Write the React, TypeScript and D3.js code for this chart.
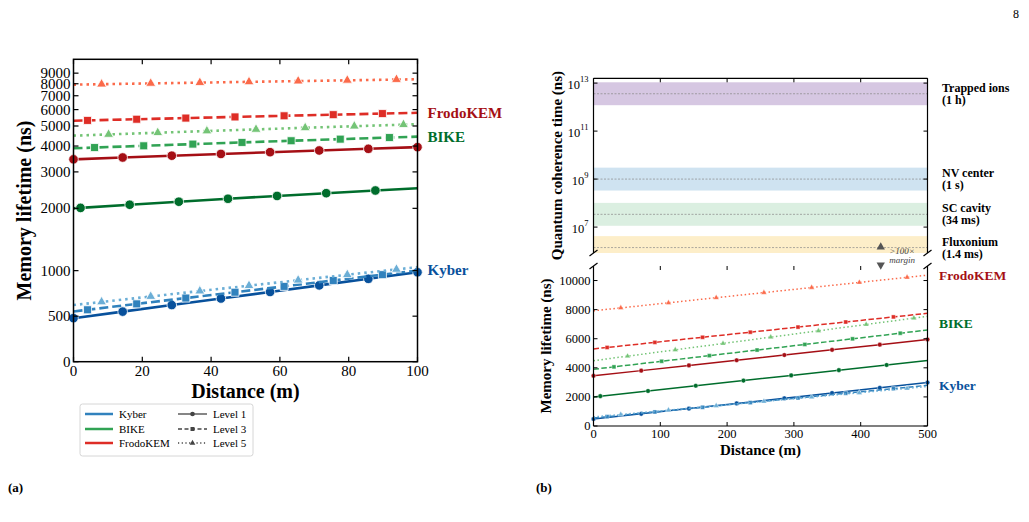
import React from "react";
import * as d3 from "d3";

const FONT = '"Liberation Serif", "Times New Roman", Times, serif';

// ---- panel (a): 0-100 m ----
// distances (m) of the plotted points, one list per marker offset
const distA0 = [0, 14.29, 28.57, 42.86, 57.14, 71.43, 85.71, 100];
const distA1 = [0, 2.04, 16.33, 30.61, 44.9, 59.18, 73.47, 87.76, 100];
const distA2 = [0, 4.08, 18.37, 32.65, 46.94, 61.22, 75.51, 89.8, 100];
const distA3 = [0, 6.12, 20.41, 34.69, 48.98, 63.27, 77.55, 91.84, 100];
const distA4 = [0, 8.16, 22.45, 36.73, 51.02, 65.31, 79.59, 93.88, 100];
const distA5 = [0, 10.2, 24.49, 38.78, 53.06, 67.35, 81.63, 95.92, 100];

// memory lifetime (ns)
const kyberL1A = [478, 550, 622, 694, 766, 838, 910, 982];
const kyberL3A = [552, 570, 635, 699, 763, 827, 892, 956, 1002];
const kyberL5A = [622, 656, 716, 776, 835, 895, 955, 1014, 1040];
const bikeL1A = [2000, 2010, 2082, 2153, 2225, 2296, 2367, 2439, 2500];
const bikeL3A = [3900, 3933, 4010, 4087, 4164, 4242, 4319, 4396, 4440];
const bikeL5A = [4490, 4552, 4639, 4727, 4814, 4901, 4988, 5075, 5100];
const frodoL1A = [3450, 3521, 3593, 3664, 3736, 3807, 3879, 3950];
const frodoL3A = [5300, 5320, 5390, 5460, 5530, 5600, 5670, 5740, 5790];
const frodoL5A = [7920, 7960, 8030, 8100, 8170, 8240, 8310, 8380, 8410];

// ---- panel (b): 0-500 m ----
const distB0 = [0, 71.43, 142.86, 214.29, 285.71, 357.14, 428.57, 500];
const distB1 = [0, 10.2, 81.63, 153.06, 224.49, 295.92, 367.35, 438.78, 500];
const distB2 = [0, 20.41, 91.84, 163.27, 234.69, 306.12, 377.55, 448.98, 500];
const distB3 = [0, 30.61, 102.04, 173.47, 244.9, 316.33, 387.76, 459.18, 500];
const distB4 = [0, 40.82, 112.24, 183.67, 255.1, 326.53, 397.96, 469.39, 500];
const distB5 = [0, 51.02, 122.45, 193.88, 265.31, 336.73, 408.16, 479.59, 500];

const kyberL1B = [480, 838, 1196, 1554, 1911, 2269, 2627, 2985];
const kyberL3B = [552, 644, 965, 1287, 1608, 1929, 2251, 2572, 2800];
const kyberL5B = [622, 793, 1091, 1390, 1688, 1987, 2286, 2584, 2712];
const bikeL1B = [2000, 2051, 2408, 2766, 3123, 3480, 3837, 4194, 4500];
const bikeL3B = [3900, 4065, 4451, 4837, 5222, 5608, 5994, 6380, 6600];
const bikeL5B = [4490, 4801, 5237, 5673, 6108, 6544, 6980, 7416, 7540];
const frodoL1B = [3450, 3807, 4164, 4521, 4879, 5236, 5593, 5950];
const frodoL3B = [5300, 5400, 5750, 6100, 6450, 6800, 7150, 7500, 7750];
const frodoL5B = [7920, 8120, 8470, 8820, 9170, 9520, 9870, 10220, 10370];

// quantum memory platforms (coherence time in ns)
const platforms = ["Trapped ions", "NV center", "SC cavity", "Fluxonium"];
const platformNotes = ["(1 h)", "(1 s)", "(34 ms)", "(1.4 ms)"];
const coherenceNs = [3.6e12, 1e9, 3.4e7, 1.4e6];
const bandColors = ["#d6c7e2", "#cfe3f1", "#dbefe1", "#fdeec9"];

const algos = ["Kyber", "BIKE", "FrodoKEM"];
const levels = ["Level 1", "Level 3", "Level 5"];
const algoColors = ["#3182bd", "#31a354", "#de2d26"];
const labelColors = ["#08519c", "#006d2c", "#a50f15"];
const shades = [
  ["#08519c", "#3182bd", "#6baed6"],
  ["#006d2c", "#31a354", "#74c476"],
  ["#a50f15", "#de2d26", "#fb6a4a"],
];

const ticksA = [0, 500, 1000, 2000, 3000, 4000, 5000, 6000, 7000, 8000, 9000];

type Series = { algo: number; level: number; dA: number[]; vA: number[]; dB: number[]; vB: number[] };
const series: Series[] = [
  { algo: 0, level: 0, dA: distA0, vA: kyberL1A, dB: distB0, vB: kyberL1B },
  { algo: 0, level: 1, dA: distA2, vA: kyberL3A, dB: distB2, vB: kyberL3B },
  { algo: 0, level: 2, dA: distA4, vA: kyberL5A, dB: distB4, vB: kyberL5B },
  { algo: 1, level: 0, dA: distA1, vA: bikeL1A, dB: distB1, vB: bikeL1B },
  { algo: 1, level: 1, dA: distA3, vA: bikeL3A, dB: distB3, vB: bikeL3B },
  { algo: 1, level: 2, dA: distA5, vA: bikeL5A, dB: distB5, vB: bikeL5B },
  { algo: 2, level: 0, dA: distA0, vA: frodoL1A, dB: distB0, vB: frodoL1B },
  { algo: 2, level: 1, dA: distA2, vA: frodoL3A, dB: distB2, vB: frodoL3B },
  { algo: 2, level: 2, dA: distA4, vA: frodoL5A, dB: distB4, vB: frodoL5B },
];

// symlog-like transform: linear below 1000 ns, log10 above
const LINTHRESH = 1000;
const LINSCALE = 0.44;
const symT = (v: number) => (v <= LINTHRESH ? (LINSCALE * v) / LINTHRESH : LINSCALE + Math.log10(v / LINTHRESH));

// panel (a) geometry
const A = { left: 73.5, right: 417.5, top: 59.3, bottom: 361.7 };
const xA = d3.scaleLinear().domain([0, 100]).range([A.left, A.right]);
const yAlin = d3.scaleLinear().domain([symT(0), symT(10500)]).range([A.bottom, A.top]);
const yA = (v: number) => yAlin(symT(v));

// panel (b) geometry
const B = { left: 593.5, right: 927.5, top: 78.3, mid1: 253, mid2: 266, bottom: 426 };
const xB = d3.scaleLinear().domain([0, 500]).range([B.left, B.right]);
const yBtop = d3.scaleLog().domain([Math.pow(10, 5.92), Math.pow(10, 13.2)]).range([B.mid1, B.top]);
const yB = d3.scaleLinear().domain([0, 11000]).range([B.bottom, B.mid2]);

const symbolTypes = [d3.symbolCircle, d3.symbolSquare, d3.symbolTriangle];
const marker = (level: number, big: boolean) => {
  const sizes = big ? [72, 64, 42] : [17, 16, 14];
  return d3.symbol(symbolTypes[level], sizes[level])() || "";
};
const dashA = ["none", "9,4", "2.5,4"];
const dashB = ["none", "5.5,2.4", "1.5,2.5"];
const dashLegend = ["none", "4,2.5", "1.2,2.5"];

function SeriesMarks({ s, panel }: { s: Series; panel: "a" | "b" }) {
  const big = panel === "a";
  const d = big ? s.dA : s.dB;
  const v = big ? s.vA : s.vB;
  const xs = big ? xA : xB;
  const ys = big ? yA : yB;
  const color = shades[s.algo][s.level];
  const pts: [number, number][] = d.map((di, i) => [xs(di), ys(v[i])]);
  const line = d3.line<[number, number]>().x((p) => p[0]).y((p) => p[1]);
  // with a non-zero marker offset the end points carry no marker
  const marked = d.length === 8 ? pts : pts.slice(1, -1);
  const sym = marker(s.level, big);
  return (
    <g>
      <path
        d={line(pts) || ""}
        fill="none"
        stroke={color}
        strokeWidth={big ? 2.6 : 1.5}
        strokeDasharray={(big ? dashA : dashB)[s.level]}
      />
      {marked.map((p, i) => (
        <path
          key={i}
          d={sym}
          transform={`translate(${p[0]},${p[1]})`}
          fill={color}
          stroke="#fff"
          strokeWidth={big ? 0.8 : 0.4}
        />
      ))}
    </g>
  );
}

function Pow10({ x, y, exp }: { x: number; y: number; exp: number }) {
  return (
    <text x={x} y={y} textAnchor="end" fontSize={12.5} fontFamily={FONT} dominantBaseline="central">
      10
      <tspan fontSize={8.5} dy={-6}>
        {exp}
      </tspan>
    </text>
  );
}

export default function App() {
  const tickLen = 5;
  const xTicksA = d3.range(0, 101, 20);
  const xTicksB = d3.range(0, 501, 100);
  const yTicksB = d3.range(0, 10001, 2000);
  const yTicksTop = [1e7, 1e9, 1e11, 1e13];
  const breakMark = (x: number, y: number, key: string) => (
    <line key={key} x1={x - 4} y1={y + 3} x2={x + 4} y2={y - 3} stroke="#000" strokeWidth={1.2} />
  );
  const legendY = [414, 429, 443];

  return (
    <svg width={1029} height={522} style={{ position: "absolute", left: 0, top: 0, background: "#fff" }} fontFamily={FONT}>
      <text x={1016} y={18} fontSize={12} textAnchor="middle">8</text>

      {/* ================= panel (a) ================= */}
      <g>
        {series.map((s, i) => (
          <SeriesMarks key={i} s={s} panel="a" />
        ))}
        <rect x={A.left} y={A.top} width={A.right - A.left} height={A.bottom - A.top} fill="none" stroke="#000" strokeWidth={1.5} />
        {xTicksA.map((t) => (
          <g key={t}>
            <line x1={xA(t)} x2={xA(t)} y1={A.bottom} y2={A.bottom - tickLen} stroke="#000" strokeWidth={1.2} />
            <line x1={xA(t)} x2={xA(t)} y1={A.top} y2={A.top + tickLen} stroke="#000" strokeWidth={1.2} />
            <text x={xA(t)} y={A.bottom + 14} fontSize={15} textAnchor="middle">{t}</text>
          </g>
        ))}
        {ticksA.map((t) => (
          <g key={t}>
            <line x1={A.left} x2={A.left + tickLen} y1={yA(t)} y2={yA(t)} stroke="#000" strokeWidth={1.2} />
            <line x1={A.right} x2={A.right - tickLen} y1={yA(t)} y2={yA(t)} stroke="#000" strokeWidth={1.2} />
            <text x={A.left - 3} y={yA(t)} fontSize={15} textAnchor="end" dominantBaseline="central">{t}</text>
          </g>
        ))}
        <text x={(A.left + A.right) / 2} y={398} fontSize={20} fontWeight="bold" textAnchor="middle">Distance (m)</text>
        <text transform={`translate(31,${(A.top + A.bottom) / 2}) rotate(-90)`} fontSize={20} fontWeight="bold" textAnchor="middle">
          Memory lifetime (ns)
        </text>
        {[frodoL3A, bikeL3A, kyberL3A].map((vals, i) => {
          const algo = 2 - i;
          return (
            <text key={algo} x={A.right + 10} y={yA(vals[vals.length - 1])} fontSize={15} fontWeight="bold" fill={labelColors[algo]} dominantBaseline="central">
              {algos[algo]}
            </text>
          );
        })}

        {/* legend */}
        <rect x={80} y={404} width={173} height={52} rx={2.5} fill="#fff" stroke="#ccc" strokeWidth={0.8} />
        {algos.map((a, i) => (
          <g key={a}>
            <line x1={85} x2={113} y1={legendY[i]} y2={legendY[i]} stroke={algoColors[i]} strokeWidth={2.5} />
            <text x={119} y={legendY[i]} fontSize={11} dominantBaseline="central">{a}</text>
          </g>
        ))}
        {levels.map((l, i) => (
          <g key={l}>
            <line x1={178} x2={207} y1={legendY[i]} y2={legendY[i]} stroke="#444" strokeWidth={1.3} strokeDasharray={dashLegend[i]} />
            <path d={marker(i, false)} transform={`translate(${192.5},${legendY[i]})`} fill="#444" />
            <text x={213} y={legendY[i]} fontSize={11} dominantBaseline="central">{l}</text>
          </g>
        ))}
      </g>
      <text x={8} y={492} fontSize={13} fontWeight="bold">(a)</text>

      {/* ================= panel (b), upper: coherence times ================= */}
      <g>
        {coherenceNs.map((c, i) => {
          const lo = Math.max(c / 3, yBtop.domain()[0]);
          const hi = Math.min(c * 3, yBtop.domain()[1]);
          return (
            <g key={platforms[i]}>
              <rect x={B.left} width={B.right - B.left} y={yBtop(hi)} height={yBtop(lo) - yBtop(hi)} fill={bandColors[i]} />
              <line x1={B.left} x2={B.right} y1={yBtop(c)} y2={yBtop(c)} stroke="#888" strokeWidth={0.7} strokeDasharray="2,1.5" />
              <text x={942} y={yBtop(c) - 6} fontSize={12} fontWeight="bold" dominantBaseline="central">{platforms[i]}</text>
              <text x={942} y={yBtop(c) + 6} fontSize={12} fontWeight="bold" dominantBaseline="central">{platformNotes[i]}</text>
            </g>
          );
        })}
        <line x1={B.left} x2={B.left} y1={B.top} y2={B.mid1} stroke="#000" strokeWidth={1.2} />
        <line x1={B.right} x2={B.right} y1={B.top} y2={B.mid1} stroke="#000" strokeWidth={1.2} />
        <line x1={B.left} x2={B.right} y1={B.top} y2={B.top} stroke="#000" strokeWidth={1.2} />
        {xTicksB.map((t) => (
          <line key={t} x1={xB(t)} x2={xB(t)} y1={B.top} y2={B.top + 4} stroke="#000" strokeWidth={1} />
        ))}
        {yTicksTop.map((t) => (
          <g key={t}>
            <line x1={B.left} x2={B.left + 4} y1={yBtop(t)} y2={yBtop(t)} stroke="#000" strokeWidth={1} />
            <line x1={B.right} x2={B.right - 4} y1={yBtop(t)} y2={yBtop(t)} stroke="#000" strokeWidth={1} />
            <Pow10 x={B.left - 5} y={yBtop(t) + 2} exp={Math.round(Math.log10(t))} />
          </g>
        ))}
        <text transform={`translate(562,${(B.top + B.mid1) / 2}) rotate(-90)`} fontSize={15} fontWeight="bold" textAnchor="middle">
          Quantum coherence time (ns)
        </text>

        {/* >100x margin note */}
        <path d={d3.symbol(d3.symbolTriangle, 30)() || ""} transform={`translate(${xB(430)},${B.mid1 - 6})`} fill="#555" />
        <path d={d3.symbol(d3.symbolTriangle, 30)() || ""} transform={`translate(${xB(430)},${B.mid2 - 1}) rotate(180)`} fill="#555" />
        <text x={xB(462)} y={B.mid1 + 1} fontSize={9} fontStyle="italic" fill="#444" textAnchor="middle">&gt;100×</text>
        <text x={xB(462)} y={B.mid1 + 10} fontSize={9} fontStyle="italic" fill="#444" textAnchor="middle">margin</text>
      </g>

      {/* ================= panel (b), lower: memory lifetime ================= */}
      <g>
        {series.map((s, i) => (
          <SeriesMarks key={i} s={s} panel="b" />
        ))}
        <line x1={B.left} x2={B.left} y1={B.mid2} y2={B.bottom} stroke="#000" strokeWidth={1.2} />
        <line x1={B.right} x2={B.right} y1={B.mid2} y2={B.bottom} stroke="#000" strokeWidth={1.2} />
        <line x1={B.left} x2={B.right} y1={B.bottom} y2={B.bottom} stroke="#000" strokeWidth={1.2} />
        {xTicksB.map((t) => (
          <g key={t}>
            <line x1={xB(t)} x2={xB(t)} y1={B.bottom} y2={B.bottom - 4} stroke="#000" strokeWidth={1} />
            <line x1={xB(t)} x2={xB(t)} y1={B.mid2} y2={B.mid2 + 4} stroke="#000" strokeWidth={1} />
            <text x={xB(t)} y={B.bottom + 12} fontSize={12.5} textAnchor="middle">{t}</text>
          </g>
        ))}
        {yTicksB.map((t) => (
          <g key={t}>
            <line x1={B.left} x2={B.left + 4} y1={yB(t)} y2={yB(t)} stroke="#000" strokeWidth={1} />
            <line x1={B.right} x2={B.right - 4} y1={yB(t)} y2={yB(t)} stroke="#000" strokeWidth={1} />
            <text x={B.left - 3} y={yB(t)} fontSize={12.5} textAnchor="end" dominantBaseline="central">{t}</text>
          </g>
        ))}
        <text x={(B.left + B.right) / 2} y={455} fontSize={15} fontWeight="bold" textAnchor="middle">Distance (m)</text>
        <text transform={`translate(551,${(B.mid2 + B.bottom) / 2}) rotate(-90)`} fontSize={15} fontWeight="bold" textAnchor="middle">
          Memory lifetime (ns)
        </text>
        {[frodoL5B[frodoL5B.length - 1], (bikeL3B[bikeL3B.length - 1] + bikeL5B[bikeL5B.length - 1]) / 2, kyberL3B[kyberL3B.length - 1]].map(
          (v, i) => {
            const algo = 2 - i;
            return (
              <text key={algo} x={939} y={yB(v)} fontSize={13.5} fontWeight="bold" fill={labelColors[algo]} dominantBaseline="central">
                {algos[algo]}
              </text>
            );
          }
        )}
      </g>

      {/* axis break marks */}
      {breakMark(B.left, B.mid1, "bl1")}
      {breakMark(B.right, B.mid1, "br1")}
      {breakMark(B.left, B.mid2, "bl2")}
      {breakMark(B.right, B.mid2, "br2")}

      <text x={536} y={492} fontSize={13} fontWeight="bold">(b)</text>
    </svg>
  );
}
